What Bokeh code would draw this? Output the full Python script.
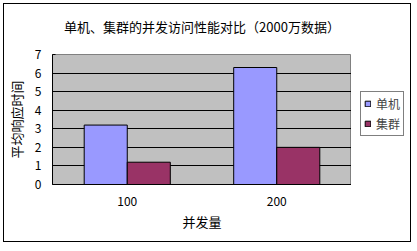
from bokeh.plotting import figure
from bokeh.layouts import row
from bokeh.models import (Range1d, FactorRange, Legend, LegendItem,
                          ColumnDataSource, FixedTicker, InlineStyleSheet)
from bokeh.transform import dodge
from bokeh.embed import file_html
from bokeh.resources import INLINE

# ---- data ----
categories = ["100", "200"]
series_names = ["单机", "集群"]
standalone = [3.2, 6.3]
cluster = [1.2, 2.0]
y_ticks = [0, 1, 2, 3, 4, 5, 6, 7]
grid_ticks = [1, 2, 3, 4, 5, 6]
colors = ["#9999FF", "#993366"]

chart_title = "单机、集群的并发访问性能对比（2000万数据）"
x_title = "并发量"
y_title = "平均响应时间"

FONT = "Noto Sans CJK SC"

src = ColumnDataSource(dict(cat=categories, a=standalone, b=cluster))

p = figure(width=351, height=251,
           x_range=FactorRange(factors=categories, range_padding=0),
           y_range=Range1d(0, 7),
           output_backend="svg", toolbar_location=None,
           min_border_left=52, min_border_right=0,
           min_border_top=52, min_border_bottom=67)

p.background_fill_color = "#C0C0C0"
p.border_fill_color = "white"
p.outline_line_color = "#808080"
p.outline_line_width = 1

r1 = p.vbar(x=dodge("cat", -0.144, range=p.x_range), top="a", width=0.288, source=src,
            fill_color=colors[0], line_color="black", line_width=1)
r2 = p.vbar(x=dodge("cat", 0.144, range=p.x_range), top="b", width=0.288, source=src,
            fill_color=colors[1], line_color="black", line_width=1)

# title
p.title.text = chart_title
p.title.align = "center"
p.title.vertical_align = "top"
p.title.text_font = FONT
p.title.text_font_size = "13px"
p.title.text_font_style = "normal"
p.title.text_color = "black"
p.title.standoff = 33
p.title.offset = 0

# grid
p.xgrid.visible = False
p.ygrid.ticker = FixedTicker(ticks=grid_ticks)
p.ygrid.grid_line_color = "black"
p.ygrid.grid_line_width = 1

# y axis
p.yaxis.ticker = FixedTicker(ticks=y_ticks)
p.yaxis.axis_line_color = "black"
p.yaxis.major_tick_in = 3
p.yaxis.major_tick_out = 0
p.yaxis.minor_tick_line_color = None
p.yaxis.major_tick_line_color = "black"
p.yaxis.major_label_standoff = 11
p.yaxis.major_label_text_font = FONT
p.yaxis.major_label_text_font_size = "12px"
p.yaxis.major_label_text_color = "black"
p.yaxis.axis_label = y_title
p.yaxis.axis_label_text_font = FONT
p.yaxis.axis_label_text_font_size = "13px"
p.yaxis.axis_label_text_font_style = "normal"
p.yaxis.axis_label_text_color = "black"
p.yaxis.axis_label_standoff = 6

# x axis
p.xaxis.axis_line_color = "black"
p.xaxis.major_tick_in = 0
p.xaxis.major_tick_out = 0
p.xaxis.major_label_standoff = 12
p.xaxis.major_label_text_font = FONT
p.xaxis.major_label_text_font_size = "12px"
p.xaxis.major_label_text_color = "black"
p.xaxis.axis_label = x_title
p.xaxis.axis_label_text_font = FONT
p.xaxis.axis_label_text_font_size = "13px"
p.xaxis.axis_label_text_font_style = "normal"
p.xaxis.axis_label_text_color = "black"
p.xaxis.axis_label_standoff = 3

# legend strip to the right of the chart (its frame is aligned with the chart's frame)
q = figure(width=66, height=251, x_range=Range1d(0, 1), y_range=Range1d(0, 1),
           x_axis_type=None, y_axis_type=None,
           output_backend="svg", toolbar_location=None,
           min_border_left=0, min_border_right=0, min_border_top=0, min_border_bottom=0)
q.outline_line_color = None
q.background_fill_color = "white"
q.border_fill_color = "white"
q.grid.visible = False
# legend-only renderers: same data, lying outside this strip's visible range
l1 = q.vbar(x="a", top="b", width=0.01, source=src, fill_color=colors[0], line_color="black")
l2 = q.vbar(x="a", top="b", width=0.01, source=src, fill_color=colors[1], line_color="black")

legend = Legend(items=[LegendItem(label=series_names[0], renderers=[l1]),
                       LegendItem(label=series_names[1], renderers=[l2])],
                location=(9, 48), border_line_color="black", border_line_width=1,
                margin=0, padding=3, spacing=3,
                glyph_width=7, glyph_height=7, label_height=15, label_standoff=5,
                label_text_font=FONT, label_text_font_size="12px",
                background_fill_color="white", background_fill_alpha=1)
q.add_layout(legend)

layout = row(p, q, spacing=0)
# outer chart border via CSS
layout.stylesheets = [InlineStyleSheet(css=""":host { position: relative; }
:host::after { content: ""; position: absolute; left: 3px; top: 3px;
  width: 406px; height: 237px; border: 1px solid black;
  pointer-events: none; z-index: 10; }""")]

open("out.html", "w").write(file_html(layout, INLINE))
